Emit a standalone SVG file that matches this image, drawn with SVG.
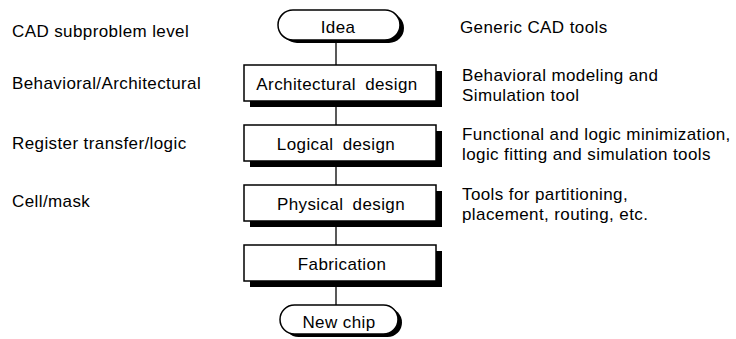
<svg xmlns="http://www.w3.org/2000/svg" width="736" height="339" viewBox="0 0 736 339">
<style>
text{font-family:"Liberation Sans",Arial,sans-serif;font-size:17px;letter-spacing:0.4px;fill:#000}
.c{text-anchor:middle;word-spacing:4px}
.n{text-anchor:middle}
.box{fill:#fff;stroke:#000;stroke-width:1.5}
.sh{fill:#000}
.ln{stroke:#222;stroke-width:1.5;fill:none}
</style>
<rect width="736" height="339" fill="#fff"/>
<g id="connectors">
<line class="ln" x1="336" y1="40" x2="336" y2="65"/>
<line class="ln" x1="336" y1="101" x2="336" y2="125"/>
<line class="ln" x1="336" y1="161" x2="336" y2="185"/>
<line class="ln" x1="336" y1="221" x2="336" y2="245"/>
<line class="ln" x1="336" y1="281" x2="336" y2="305"/>
</g>
<g id="idea">
<rect class="sh" x="282" y="13" width="122" height="30" rx="15"/>
<rect class="box" x="278" y="10" width="122" height="30" rx="15"/>
<text class="n" x="338" y="33">Idea</text>
</g>
<g id="architectural">
<rect class="sh" x="250" y="71" width="192" height="36"/>
<rect class="box" x="244" y="65" width="192" height="36"/>
<text class="c" x="337" y="90">Architectural design</text>
</g>
<g id="logical">
<rect class="sh" x="250" y="131" width="192" height="36"/>
<rect class="box" x="244" y="125" width="192" height="36"/>
<text class="c" x="336" y="150">Logical design</text>
</g>
<g id="physical">
<rect class="sh" x="250" y="191" width="192" height="36"/>
<rect class="box" x="244" y="185" width="192" height="36"/>
<text class="c" x="341" y="210">Physical design</text>
</g>
<g id="fabrication">
<rect class="sh" x="250" y="251" width="192" height="36"/>
<rect class="box" x="244" y="245" width="192" height="36"/>
<text class="n" x="342" y="270">Fabrication</text>
</g>
<g id="newchip">
<rect class="sh" x="284" y="308" width="118" height="29" rx="14.5"/>
<rect class="box" x="280" y="305" width="118" height="29" rx="14.5"/>
<text class="n" x="339" y="328">New chip</text>
</g>
<g id="levels">
<text x="12" y="37">CAD subproblem level</text>
<text x="12" y="89">Behavioral/Architectural</text>
<text x="12" y="149">Register transfer/logic</text>
<text x="12" y="207">Cell/mask</text>
</g>
<g id="tools">
<text x="460" y="33">Generic CAD tools</text>
<text x="462" y="81">Behavioral modeling and</text>
<text x="462" y="101">Simulation tool</text>
<text x="462" y="140">Functional and logic minimization,</text>
<text x="462" y="160">logic fitting and simulation tools</text>
<text x="462" y="200">Tools for partitioning,</text>
<text x="462" y="220">placement, routing, etc.</text>
</g>
</svg>
